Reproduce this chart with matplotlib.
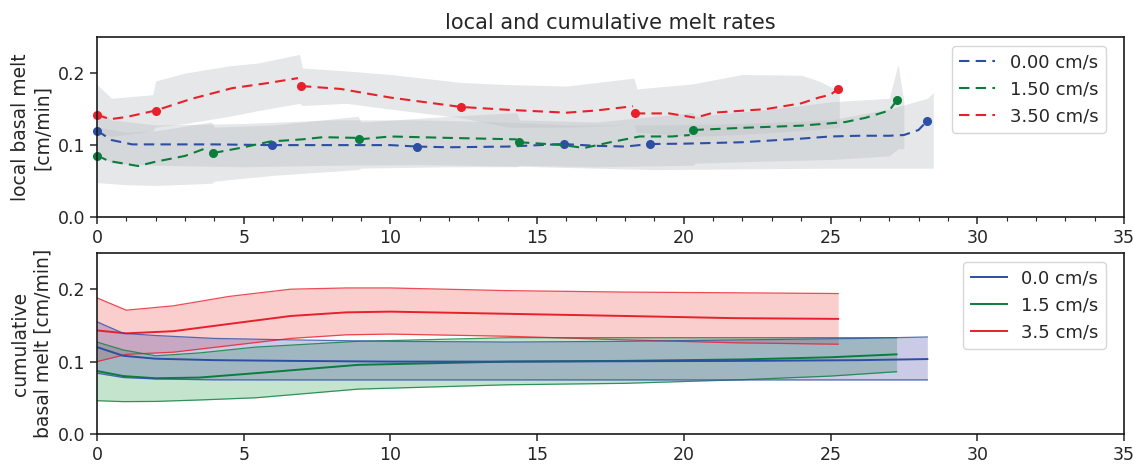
import numpy as np
import matplotlib
matplotlib.use("Agg")
import matplotlib.pyplot as plt
from matplotlib.ticker import MultipleLocator

nan = np.nan

# --- local melt (top panel), segments separated by nan ---
blue_x = [0, 0.5, 1.2, 2, 4, 5.95, nan, 5.95, 8, 10, 10.9, nan, 10.9, 12, 14, 15.9, nan,
          15.9, 17, 18, 18.85, nan, 18.85, 20, 22, 24, 25, 26, 27, 27.5, 28, 28.28]
blue_y = [0.120, 0.107, 0.101, 0.101, 0.101, 0.100, nan, 0.100, 0.100, 0.100, 0.098, nan,
          0.098, 0.097, 0.098, 0.1015, nan, 0.1015, 0.099, 0.098, 0.1015, nan,
          0.1015, 0.102, 0.104, 0.109, 0.112, 0.113, 0.113, 0.114, 0.121, 0.133]
blue_mx = [0, 5.95, 10.9, 15.9, 18.85, 28.28]
blue_my = [0.120, 0.100, 0.098, 0.1015, 0.1015, 0.133]

green_x = [0, 0.4, 1.4, 2, 3, 3.8, nan, 3.96, 5, 5.9, 7, 7.7, 8.9, nan, 8.94, 10, 12, 14.3, nan,
           14.38, 15.9, 16.6, 17.5, 18.5, 19.6, 20.2, nan, 20.33, 22, 24, 25.5, 26.2, 27, 27.26]
green_y = [0.0855, 0.078, 0.071, 0.077, 0.085, 0.097, nan, 0.089, 0.097, 0.105, 0.108, 0.111,
           0.110, nan, 0.108, 0.112, 0.110, 0.108, nan, 0.104, 0.100, 0.096, 0.104, 0.112,
           0.112, 0.114, nan, 0.121, 0.124, 0.127, 0.132, 0.138, 0.148, 0.162]
green_mx = [0, 3.96, 8.94, 14.38, 20.33, 27.26]
green_my = [0.0855, 0.089, 0.108, 0.104, 0.121, 0.162]

red_x = [0, 0.45, 1, 2, 3.2, 4.6, 5.8, 6.85, nan, 6.95, 8.3, 10, 12.4, 14, 16, 17, 18.27, nan,
         18.33, 19.5, 20.4, 21, 22.8, 24, 24.6, 25, 25.26]
red_y = [0.142, 0.136, 0.139, 0.148, 0.164, 0.179, 0.186, 0.193, nan, 0.182, 0.178, 0.166,
         0.153, 0.149, 0.145, 0.148, 0.154, nan, 0.144, 0.144, 0.138, 0.145, 0.150, 0.158,
         0.166, 0.170, 0.178]
red_mx = [0, 2, 6.95, 12.4, 18.33, 25.26]
red_my = [0.142, 0.148, 0.182, 0.153, 0.144, 0.178]

# spread bands (grey)
blue_band_x = [0, 0.5, 2, 5, 8, 11, 14, 16, 19, 22, 25, 27, 28.3, 28.5]
blue_band_hi = [0.150, 0.135, 0.128, 0.130, 0.135, 0.135, 0.132, 0.128, 0.128, 0.130,
                0.135, 0.150, 0.165, 0.173]
blue_band_lo = [0.090, 0.075, 0.072, 0.070, 0.072, 0.073, 0.071, 0.069, 0.066, 0.067,
                0.068, 0.068, 0.068, 0.068]

green_band_x = [0, 1, 2, 3.9, 4.0, 6, 8.9, 9.0, 12, 14.3, 14.4, 17, 20.3, 20.4, 23, 25, 27,
                27.3, 27.5]
green_band_hi = [0.125, 0.118, 0.120, 0.132, 0.125, 0.128, 0.140, 0.132, 0.140, 0.145, 0.135,
                 0.132, 0.145, 0.140, 0.150, 0.160, 0.165, 0.212, 0.160]
green_band_lo = [0.048, 0.045, 0.044, 0.047, 0.050, 0.058, 0.066, 0.068, 0.070, 0.070, 0.072,
                 0.070, 0.072, 0.075, 0.078, 0.080, 0.085, 0.095, 0.095]

red_band_x = [0, 0.5, 1.9, 2.0, 3, 4.5, 5.5, 6.9, 7.0, 8.5, 10, 12.4, 14, 16, 18.3, 18.4,
              20.3, 22, 24, 24.6, 25.3]
red_band_hi = [0.184, 0.165, 0.170, 0.189, 0.200, 0.210, 0.214, 0.226, 0.207, 0.203, 0.198,
               0.187, 0.184, 0.182, 0.193, 0.178, 0.185, 0.198, 0.197, 0.189, 0.175]
red_band_lo = [0.118, 0.112, 0.120, 0.125, 0.130, 0.140, 0.148, 0.158, 0.155, 0.158, 0.150,
               0.138, 0.125, 0.125, 0.128, 0.118, 0.112, 0.115, 0.120, 0.122, 0.125]

# --- cumulative melt (bottom panel) ---
cb_x = [0, 0.9, 2, 4, 6.6, 10, 14, 18, 22, 26, 28.3]
cb_mean = [0.120, 0.108, 0.104, 0.102, 0.101, 0.100, 0.100, 0.1005, 0.101, 0.102, 0.1035]
cb_hi = [0.155, 0.139, 0.136, 0.132, 0.130, 0.128, 0.127, 0.128, 0.130, 0.132, 0.134]
cb_lo = [0.084, 0.078, 0.076, 0.0748, 0.0747, 0.0747, 0.0747, 0.0747, 0.0747, 0.0747, 0.0747]

cg_x = [0, 0.9, 2, 3.5, 5.4, 8.9, 14, 18, 22, 25, 27.25]
cg_mean = [0.087, 0.080, 0.077, 0.078, 0.084, 0.0955, 0.100, 0.101, 0.103, 0.106, 0.110]
cg_hi = [0.127, 0.116, 0.108, 0.112, 0.120, 0.128, 0.133, 0.133, 0.133, 0.133, 0.133]
cg_lo = [0.046, 0.0447, 0.045, 0.047, 0.050, 0.062, 0.068, 0.070, 0.075, 0.080, 0.086]

cr_x = [0, 1, 2.6, 4.5, 6.6, 8.5, 10, 14, 18, 21.7, 25.26]
cr_mean = [0.143, 0.139, 0.142, 0.152, 0.163, 0.168, 0.169, 0.166, 0.163, 0.160, 0.159]
cr_hi = [0.188, 0.171, 0.177, 0.190, 0.200, 0.2017, 0.2017, 0.198, 0.196, 0.195, 0.194]
cr_lo = [0.100, 0.110, 0.113, 0.122, 0.132, 0.137, 0.138, 0.135, 0.130, 0.126, 0.124]

labels_top = ["0.00 cm/s", "1.50 cm/s", "3.50 cm/s"]
labels_bot = ["0.0 cm/s", "1.5 cm/s", "3.5 cm/s"]

c_blue = "#2c4ea3"
c_green = "#0a7d3c"
c_red = "#e8202b"
f_blue = "#3333a0"
f_green = "#18963c"
f_red = "#f03c3c"

plt.rcParams.update({
    "font.family": "DejaVu Sans",
    "font.size": 13,
    "axes.edgecolor": "#1a1a1a",
    "axes.linewidth": 1.2,
    "xtick.color": "#262626",
    "ytick.color": "#262626",
    "text.color": "#262626",
    "axes.labelcolor": "#262626",
})

fig = plt.figure(figsize=(11.33, 4.69), dpi=100)
ax1 = fig.add_axes([0.0856, 0.537, 0.9064, 0.384])
ax2 = fig.add_axes([0.0856, 0.0746, 0.9064, 0.386])

# top panel
grey = "#bfc3c7"
for bx, lo, hi in [(blue_band_x, blue_band_lo, blue_band_hi),
                   (green_band_x, green_band_lo, green_band_hi),
                   (red_band_x, red_band_lo, red_band_hi)]:
    ax1.fill_between(bx, lo, hi, color=grey, alpha=0.4, lw=0)

for x, y, mx, my, c, lab in [(blue_x, blue_y, blue_mx, blue_my, c_blue, labels_top[0]),
                             (green_x, green_y, green_mx, green_my, c_green, labels_top[1]),
                             (red_x, red_y, red_mx, red_my, c_red, labels_top[2])]:
    ax1.plot(x, y, ls="--", dashes=(5, 3), color=c, lw=1.5, label=lab)
    ax1.plot(mx, my, "o", color=c, ms=5.5, clip_on=False)

ax1.set_xlim(0, 35)
ax1.set_ylim(0, 0.25)
ax1.xaxis.set_major_locator(MultipleLocator(5))
ax1.xaxis.set_minor_locator(MultipleLocator(1))
ax1.yaxis.set_major_locator(MultipleLocator(0.1))
ax1.set_ylabel("local basal melt\n[cm/min]", fontsize=13.5)
ax1.set_title("local and cumulative melt rates", fontsize=15)
ax1.legend(loc="upper right", bbox_to_anchor=(0.991, 1.0), fontsize=13)

# bottom panel
for x, m, lo, hi, c, fc, lab in [(cr_x, cr_mean, cr_lo, cr_hi, c_red, f_red, labels_bot[2]),
                                 (cg_x, cg_mean, cg_lo, cg_hi, c_green, f_green, labels_bot[1]),
                                 (cb_x, cb_mean, cb_lo, cb_hi, c_blue, f_blue, labels_bot[0])]:
    ax2.fill_between(x, lo, hi, color=fc, alpha=0.25, lw=0)
    ax2.plot(x, lo, color=c, lw=0.9, alpha=0.8)
    ax2.plot(x, hi, color=c, lw=0.9, alpha=0.8)
    ax2.plot(x, m, color=c, lw=1.4, label=lab)

ax2.set_xlim(0, 35)
ax2.set_ylim(0, 0.25)
ax2.xaxis.set_major_locator(MultipleLocator(5))
ax2.yaxis.set_major_locator(MultipleLocator(0.1))
ax2.set_ylabel("cumulative\nbasal melt [cm/min]", fontsize=13.5)
h, l = ax2.get_legend_handles_labels()
ax2.legend(h[::-1], l[::-1], loc="upper right", bbox_to_anchor=(0.991, 1.0), fontsize=13)

for ax in (ax1, ax2):
    ax.tick_params(which="major", length=5, width=1.1, labelsize=12.5)
    ax.tick_params(which="minor", length=3, width=0.8)
    ax.yaxis.set_major_formatter(matplotlib.ticker.FormatStrFormatter("%.1f"))

fig.savefig("out.png", dpi=100)
